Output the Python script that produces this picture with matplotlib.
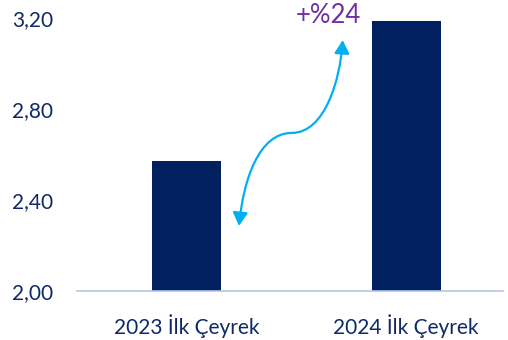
"""Quarterly bar comparison, 2023 vs 2024 first quarter."""
import matplotlib
matplotlib.use('Agg')
import matplotlib.pyplot as plt
from matplotlib.patches import FancyArrowPatch
from matplotlib.path import Path

# data
categories = ['2023 İlk Çeyrek', '2024 İlk Çeyrek']
values = [2.57, 3.185]
change_label = '+%24'
y_ticks = [2.00, 2.40, 2.80, 3.20]

BAR_COLOR = '#002060'
TEXT_COLOR = '#0e2a66'
AXIS_COLOR = '#b4c7e7'
ARROW_COLOR = '#00b0f0'
LABEL_COLOR = '#7030a0'

plt.rcParams['font.family'] = ['Lato', 'DejaVu Sans']

fig = plt.figure(figsize=(5.08, 3.40), dpi=100)
ax = fig.add_axes([0.1506, 0.1441, 0.8394, 0.8029])

x = list(range(len(categories)))
ax.bar(x, values, width=0.314, color=BAR_COLOR, zorder=2)

ax.set_xlim(-0.5, 1.44)
ax.set_ylim(2.0, 3.2)
ax.set_yticks(y_ticks)
ax.set_yticklabels([f'{v:.2f}'.replace('.', ',') for v in y_ticks])
ax.set_xticks(x)
ax.set_xticklabels(categories)

for side in ['top', 'right', 'left']:
    ax.spines[side].set_visible(False)
ax.spines['bottom'].set_color(AXIS_COLOR)
ax.spines['bottom'].set_linewidth(1.2)
ax.tick_params(axis='y', length=0, pad=17, labelsize=15, labelcolor=TEXT_COLOR)
ax.tick_params(axis='x', length=0, pad=17, labelsize=15, labelcolor=TEXT_COLOR)

# curved double-headed arrow between the bars (data coords)
verts = [(0.239, 2.286), (0.26, 2.49), (0.33, 2.695), (0.48, 2.695),
         (0.63, 2.695), (0.70, 2.93), (0.711, 3.103)]
codes = [Path.MOVETO, Path.CURVE4, Path.CURVE4, Path.CURVE4,
         Path.CURVE4, Path.CURVE4, Path.CURVE4]
arrow = FancyArrowPatch(path=Path(verts, codes), arrowstyle='<|-|>,head_length=8,head_width=4.5',
                        color=ARROW_COLOR, lw=1.6, transform=ax.transData,
                        clip_on=False, zorder=3)
ax.add_patch(arrow)

ax.text(0.645, 3.18, change_label, color=LABEL_COLOR, fontsize=18.5,
        ha='center', va='baseline', clip_on=False)

fig.savefig('out.png', dpi=100)
